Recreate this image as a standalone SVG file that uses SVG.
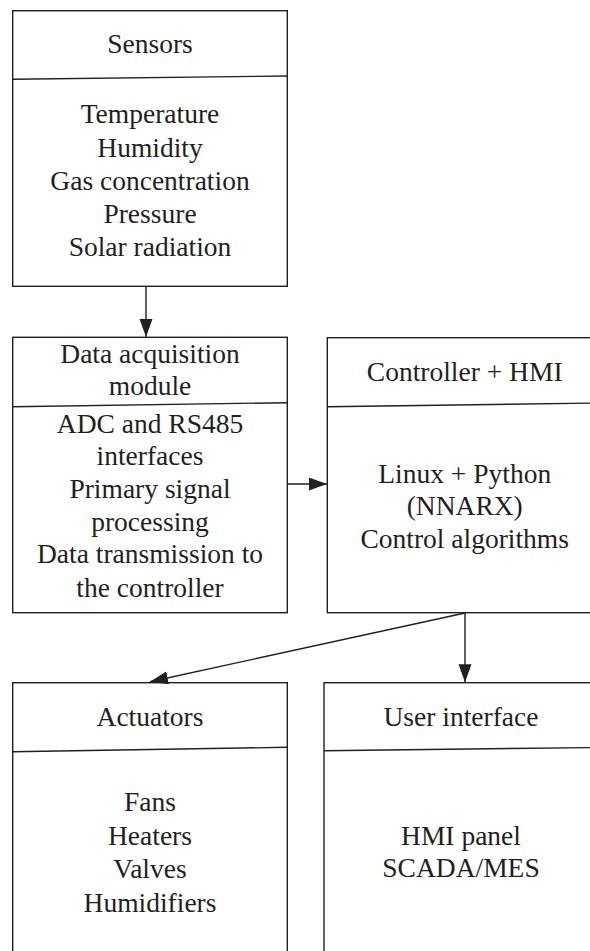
<svg xmlns="http://www.w3.org/2000/svg" width="590" height="951" viewBox="0 0 590 951">
<defs>
<style>
.box{fill:#fff;stroke:#231f20;stroke-width:1.4}
.div{stroke:#231f20;stroke-width:1.4;fill:none}
.t{font-family:"Liberation Serif","Times New Roman",serif;font-size:27.5px;fill:#231f20;text-anchor:middle}
.c{stroke:#231f20;stroke-width:1.4;fill:none}
</style>
<marker id="ah" markerUnits="userSpaceOnUse" markerWidth="20" markerHeight="16" refX="18" refY="6.5" orient="auto">
<path d="M0,0 L18,6.5 L0,13 Z" fill="#231f20"/>
</marker>
</defs>
<rect width="590" height="951" fill="#fff"/>
<g id="sensors">
<rect class="box" x="12.7" y="10.7" width="274.6" height="275.6"/>
<line class="div" x1="12.7" y1="79.3" x2="287.3" y2="76"/>
<text class="t" x="150" y="53">Sensors</text>
<text class="t" x="150" y="123.3">Temperature</text>
<text class="t" x="150" y="156.5">Humidity</text>
<text class="t" x="150" y="189.5">Gas concentration</text>
<text class="t" x="150" y="222.7">Pressure</text>
<text class="t" x="150" y="256">Solar radiation</text>
</g>
<g id="daq">
<rect class="box" x="12.7" y="337.3" width="274.6" height="275.4"/>
<line class="div" x1="12.7" y1="406.7" x2="287.3" y2="402.7"/>
<text class="t" x="150" y="363.3">Data acquisition</text>
<text class="t" x="150" y="395">module</text>
<text class="t" x="150" y="432.7">ADC and RS485</text>
<text class="t" x="150" y="465">interfaces</text>
<text class="t" x="150" y="498.3">Primary signal</text>
<text class="t" x="150" y="530.5">processing</text>
<text class="t" x="150" y="563.3">Data transmission to</text>
<text class="t" x="150" y="596.5">the controller</text>
</g>
<g id="controller">
<rect class="box" x="327.3" y="337.7" width="275" height="275"/>
<line class="div" x1="327.3" y1="406.7" x2="602" y2="403"/>
<text class="t" x="464.7" y="380.7">Controller + HMI</text>
<text class="t" x="464.7" y="482.7">Linux + Python</text>
<text class="t" x="464.7" y="515">(NNARX)</text>
<text class="t" x="464.7" y="548.3">Control algorithms</text>
</g>
<g id="actuators">
<rect class="box" x="12.7" y="682.7" width="274.6" height="290"/>
<line class="div" x1="12.7" y1="751.7" x2="287.3" y2="747.3"/>
<text class="t" x="150" y="726">Actuators</text>
<text class="t" x="150" y="811">Fans</text>
<text class="t" x="150" y="845">Heaters</text>
<text class="t" x="150" y="878.3">Valves</text>
<text class="t" x="150" y="911.7">Humidifiers</text>
</g>
<g id="user-interface">
<rect class="box" x="324" y="682.7" width="274" height="290"/>
<line class="div" x1="324" y1="750.7" x2="598" y2="747.5"/>
<text class="t" x="461" y="726">User interface</text>
<text class="t" x="461" y="845">HMI panel</text>
<text class="t" x="461" y="877.3">SCADA/MES</text>
</g>
<g id="connectors">
<line class="c" x1="146" y1="286.3" x2="146" y2="337" marker-end="url(#ah)"/>
<line class="c" x1="287.3" y1="484" x2="327" y2="484" marker-end="url(#ah)"/>
<line class="c" x1="465" y1="612.7" x2="465" y2="682.2" marker-end="url(#ah)"/>
<line class="c" x1="465" y1="613" x2="150" y2="681.8" marker-end="url(#ah)"/>
</g>
</svg>
